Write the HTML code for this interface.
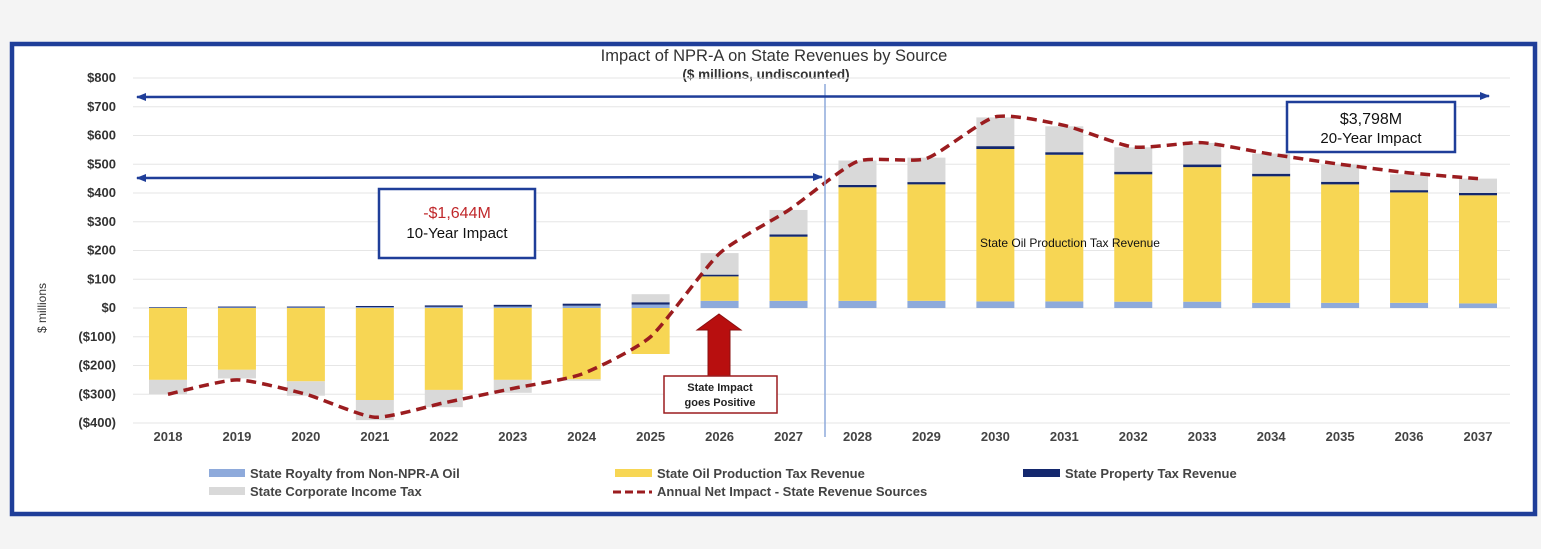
<!DOCTYPE html>
<html><head><meta charset="utf-8">
<style>
html,body{margin:0;padding:0;background:#f4f4f4;}
svg{display:block;font-family:"Liberation Sans",sans-serif;}
</style></head>
<body>
<svg id="chart" width="1541" height="549" viewBox="0 0 1541 549" xmlns="http://www.w3.org/2000/svg">
  <rect x="0" y="0" width="1541" height="549" fill="#f4f4f4"/>
  <rect x="12" y="44" width="1523" height="470" fill="#ffffff" stroke="#1f3e99" stroke-width="4.5"/>
  <text x="774" y="61" text-anchor="middle" font-size="16.5" fill="#333">Impact of NPR-A on State Revenues by Source</text>
  <text x="766" y="79" text-anchor="middle" font-size="13.5" font-weight="bold" fill="#333">($ millions, undiscounted)</text>
  <text transform="translate(46,308) rotate(-90)" text-anchor="middle" font-size="12" fill="#333">$ millions</text>
  <g id="grid"></g>
  <g id="yticks"></g>
  <g id="bars"></g>
  <g id="xticks"></g>
  <g id="line"></g>
  <g id="annot"></g>
  <g id="legend"></g>
</svg>
<script>
const years = [2018,2019,2020,2021,2022,2023,2024,2025,2026,2027,2028,2029,2030,2031,2032,2033,2034,2035,2036,2037];
const royalty = [1,2,2,3,4,5,8,12,25,25,25,25,23,23,22,22,18,18,18,16];
const oilTax = [-250,-215,-255,-320,-285,-250,-248,-160,85,223,395,405,530,510,443,468,440,412,384,376];
const propertyTax = [2,3,3,4,5,6,7,8,6,8,8,8,10,9,9,9,9,9,8,8];
const corpTax = [-50,-30,-50,-70,-60,-45,-5,28,75,85,85,85,100,90,85,75,70,60,55,50];
const netImpact = [-300,-250,-300,-380,-330,-280,-230,-100,190,340,510,520,665,635,560,575,535,500,470,450];
const yTicks = [800,700,600,500,400,300,200,100,0,-100,-200,-300,-400];
const yTickLabels = ["$800","$700","$600","$500","$400","$300","$200","$100","$0","($100)","($200)","($300)","($400)"];

const NS="http://www.w3.org/2000/svg";
function mk(tag,attrs,parent){const e=document.createElementNS(NS,tag);for(const k in attrs)e.setAttribute(k,attrs[k]);parent.appendChild(e);return e;}
const y0=308, pxPer=0.2875;
function yScale(v){return y0 - v*pxPer;}
function xScale(i){return 168 + i*(1310/19);}
const bw=38;

const grid=document.getElementById('grid'), yt=document.getElementById('yticks');
yTicks.forEach((t,i)=>{
  const gl=mk('line',{x1:133,x2:1510,y1:yScale(t),y2:yScale(t),stroke:'#e6e6e6','stroke-width':1},grid);
  
  
  const tx=mk('text',{x:116,y:yScale(t)+4,'text-anchor':'end','font-size':13,'font-weight':'bold',fill:'#333'},yt);
  tx.textContent=yTickLabels[i];
  
  
});

const bars=document.getElementById('bars'), xt=document.getElementById('xticks');
const series=[[royalty,'#8eaadb','royalty'],[oilTax,'#f7d654','oil-tax'],[propertyTax,'#14286e','property-tax'],[corpTax,'#d9d9d9','corp-tax']];
years.forEach((yr,i)=>{
  let pos=0,neg=0;
  series.forEach(([arr,col,nm])=>{
    const v=arr[i]; let a,b;
    if(v>=0){a=pos;b=pos+v;pos=b;}else{a=neg;b=neg+v;neg=b;}
    const top=Math.min(yScale(a),yScale(b)), h=Math.abs(yScale(a)-yScale(b));
    const r=mk('rect',{x:xScale(i)-bw/2,y:top,width:bw,height:Math.max(h,0.5),fill:col},bars);
    
    
  });
  const tx=mk('text',{x:xScale(i),y:441,'text-anchor':'middle','font-size':13,'font-weight':'bold',fill:'#444'},xt);
  tx.textContent=yr;
  
  
});

const pts=netImpact.map((v,i)=>[xScale(i),yScale(v)]);
let d='M'+pts[0][0]+','+pts[0][1];
for(let i=0;i<pts.length-1;i++){
  const p0=pts[Math.max(i-1,0)],p1=pts[i],p2=pts[i+1],p3=pts[Math.min(i+2,pts.length-1)];
  const t=0.1;
  const c1=[p1[0]+(p2[0]-p0[0])*t,p1[1]+(p2[1]-p0[1])*t];
  const c2=[p2[0]-(p3[0]-p1[0])*t,p2[1]-(p3[1]-p1[1])*t];
  d+=' C'+c1[0]+','+c1[1]+' '+c2[0]+','+c2[1]+' '+p2[0]+','+p2[1];
}
const ln=mk('path',{d:d,fill:'none',stroke:'#9b1c1f','stroke-width':3.5,'stroke-dasharray':'10,6'},document.getElementById('line'));


</script>
<script>
(function(){
const a=document.getElementById('annot');
a.innerHTML=`
<defs><marker id="ah" markerUnits="userSpaceOnUse" markerWidth="10" markerHeight="8" refX="9" refY="4" orient="auto-start-reverse"><path d="M0,0 L10,4 L0,8 z" fill="#1f3e99"/></marker></defs>
<line x1="825" y1="84" x2="825" y2="437" stroke="#8eaadb" stroke-width="1.5"/>
<line x1="137" y1="97" x2="1489" y2="96" stroke="#1f3e99" stroke-width="2.5" marker-start="url(#ah)" marker-end="url(#ah)"/>
<line x1="137" y1="178" x2="822" y2="177" stroke="#1f3e99" stroke-width="2.5" marker-start="url(#ah)" marker-end="url(#ah)"/>
<g>
<rect x="379" y="189" width="156" height="69" fill="#fff" stroke="#1f3e99" stroke-width="2.5"/>
<text x="457" y="218" text-anchor="middle" font-size="16" fill="#c0282b">-$1,644M</text>
<text x="457" y="238" text-anchor="middle" font-size="15" fill="#111">10-Year Impact</text>
</g>
<g>
<rect x="1287" y="102" width="168" height="50" fill="#fff" stroke="#1f3e99" stroke-width="2.5"/>
<text x="1371" y="124" text-anchor="middle" font-size="16" fill="#111">$3,798M</text>
<text x="1371" y="143" text-anchor="middle" font-size="15" fill="#111">20-Year Impact</text>
</g>
<path d="M719,314 L741,330 L730,330 L730,376 L708,376 L708,330 L697,330 Z" fill="#b80f0f" stroke="#8a1010" stroke-width="1"/>
<g>
<rect x="664" y="376" width="113" height="37" fill="#fff" stroke="#9b1c1f" stroke-width="1.5"/>
<text x="720" y="391" text-anchor="middle" font-size="11" font-weight="bold" fill="#222">State Impact</text>
<text x="720" y="406" text-anchor="middle" font-size="11" font-weight="bold" fill="#222">goes Positive</text>
</g>
<text x="1070" y="247" text-anchor="middle" font-size="12" fill="#111">State Oil Production Tax Revenue</text>`;
const lg=document.getElementById('legend');
lg.innerHTML=`
<g><rect x="209" y="469" width="36" height="8" fill="#8eaadb"/><text x="250" y="478" font-size="13" font-weight="bold" fill="#444">State Royalty from Non-NPR-A Oil</text></g>
<g><rect x="615" y="469" width="37" height="8" fill="#f7d654"/><text x="657" y="478" font-size="13" font-weight="bold" fill="#444">State Oil Production Tax Revenue</text></g>
<g><rect x="1023" y="469" width="37" height="8" fill="#14286e"/><text x="1065" y="478" font-size="13" font-weight="bold" fill="#444">State Property Tax Revenue</text></g>
<g><rect x="209" y="487" width="36" height="8" fill="#d9d9d9"/><text x="250" y="496" font-size="13" font-weight="bold" fill="#444">State Corporate Income Tax</text></g>
<g><line x1="613" y1="492" x2="652" y2="492" stroke="#9b1c1f" stroke-width="3" stroke-dasharray="8,4"/><text x="657" y="496" font-size="13" font-weight="bold" fill="#444">Annual Net Impact - State Revenue Sources</text></g>`;
})();
</script>
</body></html>
